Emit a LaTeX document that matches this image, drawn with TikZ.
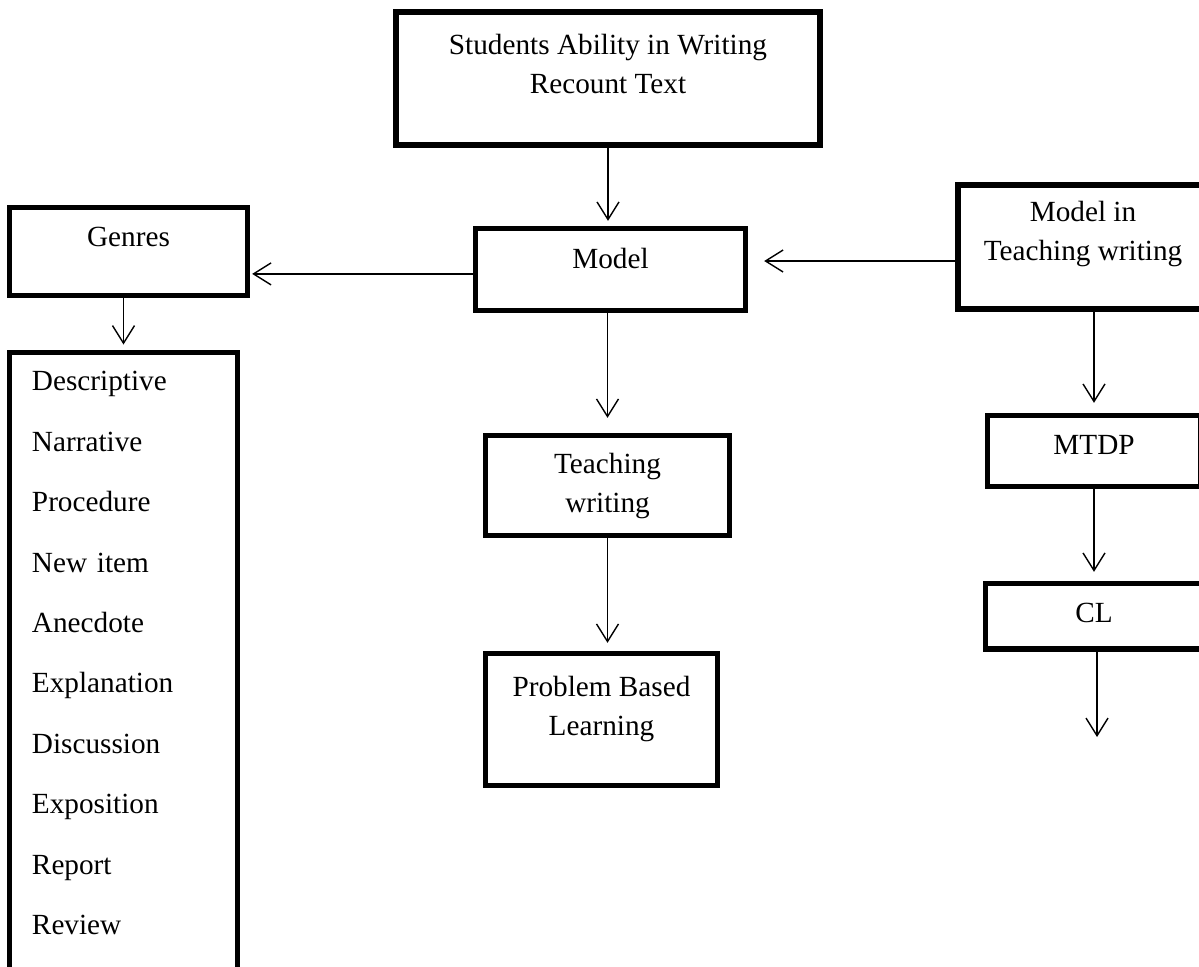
\documentclass[tikz,border=0pt]{standalone}
\usepackage{fontspec}
\setmainfont{Liberation Serif}
\usetikzlibrary{arrows.meta}

\begin{document}
\begin{tikzpicture}[
        box/.style={rectangle, draw=black, line width=3.8pt, inner sep=0pt, align=center, font=\fontsize{20.8}{27.7}\selectfont, text height=0.9625cm},
        listbox/.style={rectangle, draw=black, line width=3.8pt, inner ysep=0pt, inner xsep=5.6mm, text width=4.575cm, align=left, font=\fontsize{20.8}{43}\selectfont, text height=0.9625cm},
        arrow/.style={line width=1pt, -{Straight Barb[length=4.4mm, width=5.5mm]}},
    ]
    \useasboundingbox (0,0) rectangle (29.975,-24.15);

    % two-line boxes sit on their last baseline
    \node[box, minimum width=10.6cm, text height=2.025cm, text depth=1.3cm] (ability) at (15.2, -1.9625) {Students Ability in Writing\\Recount Text};
    \node[box, minimum width=6.75cm, text height=0.9875cm, text depth=1.0625cm] (model) at (15.2625, -6.7375) {Model};
    \node[box, minimum width=5.95cm, text depth=1.2375cm] (genres) at (3.2125, -6.2875) {Genres};
    \node[box, minimum width=6.25cm, text height=1.875cm, text depth=1.225cm] (mtw) at (27.075, -6.175) {Model in\\Teaching writing};
    \node[box, minimum width=6.1cm, text height=1.9125cm, text depth=0.5875cm] (teaching) at (15.1875, -12.1375) {Teaching\\writing};
    \node[box, minimum width=5.8cm, text height=2.0375cm, text depth=1.2625cm] (pbl) at (15.0375, -17.9875) {Problem Based\\Learning};
    \node[box, minimum width=5.325cm, text depth=0.8125cm] (mtdp) at (27.35, -11.275) {MTDP};
    \node[box, minimum width=5.425cm, text depth=0.675cm] (cl) at (27.35, -15.40625) {CL};
    \node[listbox, anchor=north, text depth=15.2875cm] (genrelist) at (3.0875, -8.7375) {Descriptive\\Narrative\\Procedure\\New item\\Anecdote\\Explanation\\Discussion\\Exposition\\Report\\Review};

    \coordinate (mg) at ([yshift=-1.1mm]model.west);
    \coordinate (mm) at ([yshift=-3.5mm]mtw.west);
    \coordinate (clend) at (27.425, -18.425);

    \path[arrow, shorten >=1.25mm] (ability.south) edge (ability.south |- model.north);
    \path[arrow, shorten >=0.5mm] (mg) edge (mg -| genres.east);
    \path[arrow, shorten >=4mm] (mm) edge (mm -| model.east);
    \path[arrow, shorten >=1.25mm] (genrelist.north |- genres.south) edge (genrelist.north);
    \path[arrow, shorten >=3.75mm] (teaching.north |- model.south) edge (teaching.north);
    \path[arrow, shorten >=2mm] (teaching.south) edge (teaching.south |- pbl.north);
    \path[arrow, shorten >=2.5mm] (mtdp.north |- mtw.south) edge (mtdp.north);
    \path[arrow, shorten >=2.25mm] (mtdp.south) edge (cl.north);
    \path[arrow] (cl.south -| clend) edge (clend);
\end{tikzpicture}
\end{document}
